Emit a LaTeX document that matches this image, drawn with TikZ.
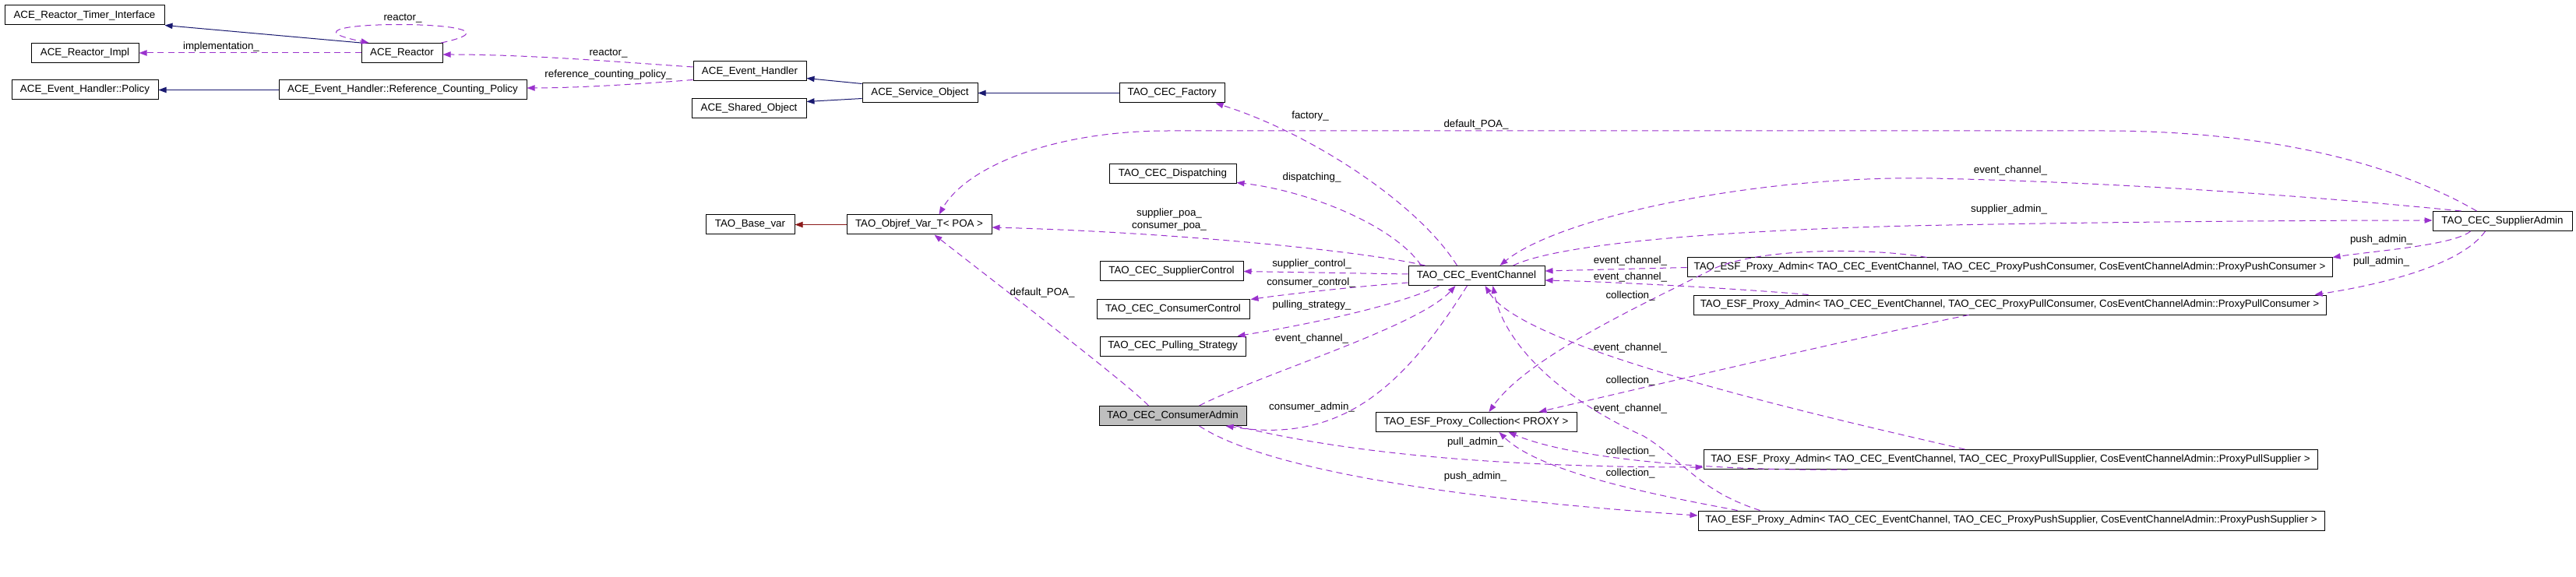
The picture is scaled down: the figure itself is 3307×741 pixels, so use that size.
\documentclass[tikz,border=0pt]{standalone}
\usepackage{fontspec}
\setmainfont{Liberation Sans}
\usetikzlibrary{arrows.meta,calc}
\definecolor{inhblue}{HTML}{191970}
\definecolor{usepurple}{HTML}{9A32CD}
\definecolor{privred}{HTML}{8B1A1A}
\definecolor{focusgray}{HTML}{BFBFBF}
\begin{document}
\begin{tikzpicture}[x=0.75pt,y=-0.75pt,
  box/.style={draw=black, fill=white, line width=0.75pt, inner sep=0pt, minimum height=18.75pt, font=\fontsize{10}{12}\selectfont, anchor=center},
  lbl/.style={font=\fontsize{10}{12}\selectfont, inner sep=0pt, align=center},
  inh/.style={draw=inhblue, line width=0.75pt, -{Triangle[length=7.5pt,width=5.5pt]}},
  inhp/.style={draw=privred, line width=0.75pt, -{Triangle[length=7.5pt,width=5.5pt]}},
  use/.style={draw=usepurple, line width=0.75pt, dash pattern=on 6pt off 4pt, -{Triangle[length=7.5pt,width=5.5pt]}}
]
\useasboundingbox (0,0) rectangle (3307,741);
\fill[white] (0,0) rectangle (3307,741);

% nodes
\node[box, minimum width=153.75pt] (timer) at (108.5,19.5) {ACE\_Reactor\_Timer\_Interface};
\node[box, minimum width=103.5pt] (rimpl) at (109,68) {ACE\_Reactor\_Impl};
\node[box, minimum width=78pt] (reactor) at (516,68) {ACE\_Reactor};
\node[box, minimum width=141pt] (policy) at (109,115.5) {ACE\_Event\_Handler::Policy};
\node[box, minimum width=238.5pt] (rcpolicy) at (517,115.5) {ACE\_Event\_Handler::Reference\_Counting\_Policy};
\node[box, minimum width=108.75pt] (evh) at (962.5,91.5) {ACE\_Event\_Handler};
\node[box, minimum width=110.25pt] (shared) at (961.5,139.5) {ACE\_Shared\_Object};
\node[box, minimum width=111pt] (service) at (1181,119.5) {ACE\_Service\_Object};
\node[box, minimum width=101.25pt] (factory) at (1504.5,119.5) {TAO\_CEC\_Factory};
\node[box, minimum width=122.25pt] (dispatching) at (1505.5,223.5) {TAO\_CEC\_Dispatching};
\node[box, minimum width=85.5pt] (basevar) at (963,288.5) {TAO\_Base\_var};
\node[box, minimum width=139.5pt] (objref) at (1180,288.5) {TAO\_Objref\_Var\_T< POA >};
\node[box, minimum width=138pt] (supctl) at (1504,348.5) {TAO\_CEC\_SupplierControl};
\node[box, minimum width=131.25pt] (ec) at (1895.5,354) {TAO\_CEC\_EventChannel};
\node[box, minimum width=147pt] (conctl) at (1506,396.5) {TAO\_CEC\_ConsumerControl};
\node[box, minimum width=140.25pt] (pulling) at (1505.5,444.5) {TAO\_CEC\_Pulling\_Strategy};
\node[box, fill=focusgray, minimum width=141.75pt] (cadmin) at (1505.5,534) {TAO\_CEC\_ConsumerAdmin};
\node[box, minimum width=193.5pt] (coll) at (1895,542) {TAO\_ESF\_Proxy\_Collection< PROXY >};
\node[box, minimum width=134.25pt] (sadmin) at (3212.5,284) {TAO\_CEC\_SupplierAdmin};
\node[box, minimum width=621pt] (pushcons) at (2580,343.5) {TAO\_ESF\_Proxy\_Admin< TAO\_CEC\_EventChannel, TAO\_CEC\_ProxyPushConsumer, CosEventChannelAdmin::ProxyPushConsumer >};
\node[box, minimum width=609pt] (pullcons) at (2580,391.5) {TAO\_ESF\_Proxy\_Admin< TAO\_CEC\_EventChannel, TAO\_CEC\_ProxyPullConsumer, CosEventChannelAdmin::ProxyPullConsumer >};
\node[box, minimum width=591pt] (pullsup) at (2581,590) {TAO\_ESF\_Proxy\_Admin< TAO\_CEC\_EventChannel, TAO\_CEC\_ProxyPullSupplier, CosEventChannelAdmin::ProxyPullSupplier >};
\node[box, minimum width=603pt] (pushsup) at (2582,668.5) {TAO\_ESF\_Proxy\_Admin< TAO\_CEC\_EventChannel, TAO\_CEC\_ProxyPushSupplier, CosEventChannelAdmin::ProxyPushSupplier >};

% inheritance
\draw[inh] (reactor.north west) -- (timer.south east);
\draw[inh] (rcpolicy.west) -- (policy.east);
\draw[inh] ($(service.north west)+(0,1)$) -- ($(evh.south east)+(0,-4)$);
\draw[inh] ($(service.south west)+(0,-6)$) -- ($(shared.north east)+(0,4)$);
\draw[inh] (factory.west) -- (service.east);
\draw[inhp] (objref.west) -- (basevar.east);

% usage
\draw[use] (reactor.west) -- (rimpl.east);
\draw[use] ($(reactor.north east)+(-2,0)$) .. controls (710,24) and (320,24) .. ($(reactor.north west)+(10,0)$);
\draw[use] ($(evh.west)+(0,-5.5)$) .. controls (800,80) and (680,70) .. ($(reactor.east)+(0,2)$);
\draw[use] ($(evh.south west)+(0,-2)$) .. controls (820,108) and (740,113) .. ($(rcpolicy.east)+(0,-2.5)$);
\draw[use] ($(ec.north west)+(63,0)$) .. controls (1820,260) and (1680,170) .. ($(factory.south east)+(-12,0)$);
\draw[use] ($(ec.north west)+(17,0)$) .. controls (1790,290) and (1680,245) .. ($(dispatching.south east)+(0,-2)$);
\draw[use] ($(sadmin.north west)+(57,0)$) .. controls (3100,225) and (2950,168) .. (2700,168) -- (1500,168) .. controls (1350,168) and (1240,215) .. ($(objref.north west)+(119,0)$);
\draw[use] ($(sadmin.north west)+(37,0)$) .. controls (3000,255) and (2750,235) .. (2480,229) .. controls (2250,225) and (2000,280) .. ($(ec.north west)+(118,0)$);
\draw[use] ($(ec.north west)+(135,0)$) .. controls (1990,318) and (2150,298) .. (2450,290) .. controls (2700,285) and (2950,283) .. ($(sadmin.west)+(0,-1)$);
\draw[use] ($(ec.north west)+(22,0)$) .. controls (1750,322) and (1500,298) .. ($(objref.east)+(0,3.5)$);
\draw[use] ($(sadmin.south west)+(49,0)$) .. controls (3150,315) and (3050,322) .. (pushcons.north east);
\draw[use] ($(sadmin.south west)+(68,0)$) .. controls (3160,340) and (3060,365) .. ($(pullcons.north east)+(-15,0)$);
\draw[use] (pushcons.west) -- ($(ec.east)+(0,-6)$);
\draw[use] ($(pullcons.north west)+(148,0)$) .. controls (2250,372) and (2080,362) .. ($(ec.east)+(0,6)$);
\draw[use] ($(ec.west)+(0,-2)$) -- (supctl.east);
\draw[use] ($(ec.south west)+(0,-4)$) .. controls (1740,368) and (1650,378) .. ($(conctl.north east)+(1,1)$);
\draw[use] ($(ec.south west)+(40,0)$) .. controls (1790,395) and (1660,420) .. ($(pulling.north east)+(-11,0)$);
\draw[use] ($(cadmin.north west)+(64,0)$) .. controls (1450,495) and (1300,380) .. ($(objref.south west)+(113,0)$);
\draw[use] ($(cadmin.north west)+(129,0)$) .. controls (1620,480) and (1820,420) .. ($(ec.south west)+(61,0)$);
\draw[use] ($(ec.south west)+(76,0)$) .. controls (1800,500) and (1720,570) .. ($(cadmin.south east)+(-27,0)$);
\draw[use] ($(pushcons.north west)+(308,0)$) .. controls (2400,318) and (2260,318) .. (2200,345) .. controls (2100,395) and (1960,460) .. ($(coll.north west)+(146,0)$);
\draw[use] ($(pullcons.south west)+(354,0)$) .. controls (2400,430) and (2100,500) .. ($(coll.north west)+(210,0)$);
\draw[use] ($(pullsup.north west)+(336,0)$) .. controls (2250,515) and (1950,440) .. ($(ec.south west)+(99,0)$);
\draw[use] ($(pushsup.north west)+(80,0)$) .. controls (2180,630) and (2160,590) .. (2110,560) .. controls (2000,510) and (1930,440) .. ($(ec.south west)+(109,0)$);
\draw[use] ($(pullsup.south west)+(185,0)$) .. controls (2200,605) and (2020,590) .. ($(coll.south west)+(171,0)$);
\draw[use] ($(pushsup.north west)+(51,0)$) .. controls (2150,640) and (1980,610) .. ($(coll.south west)+(159,0)$);
\draw[use] ($(cadmin.south east)+(-14,0)$) .. controls (1680,570) and (1850,600) .. ($(pullsup.south west)+(0,-3)$);
\draw[use] ($(cadmin.south west)+(129,0)$) .. controls (1620,600) and (1850,640) .. ($(pushsup.west)+(0,-6.5)$);

% labels
\node[lbl] (l1) at (517,24) {reactor\_};
\node[lbl] (l2) at (284,60) {implementation\_};
\node[lbl] (l3) at (781,69) {reactor\_};
\node[lbl] (l4) at (781,96) {reference\_counting\_policy\_};
\node[lbl] (l5) at (1682,149) {factory\_};
\node[lbl] (l6) at (1895,160) {default\_POA\_};
\node[lbl] (l7) at (1684,228) {dispatching\_};
\node[lbl] (l8) at (2581,219) {event\_channel\_};
\node[lbl] (l9) at (2579,269) {supplier\_admin\_};
\node[lbl] (l10) at (1501,282) {supplier\_poa\_\\consumer\_poa\_};
\node[lbl] (l11) at (3057,308) {push\_admin\_};
\node[lbl] (l12) at (3057,336) {pull\_admin\_};
\node[lbl] (l13) at (2093,335) {event\_channel\_};
\node[lbl] (l14) at (2093,356) {event\_channel\_};
\node[lbl] (l15) at (1684,339) {supplier\_control\_};
\node[lbl] (l16) at (1683,363) {consumer\_control\_};
\node[lbl] (l17) at (1338,376) {default\_POA\_};
\node[lbl] (l18) at (2093,380) {collection\_};
\node[lbl] (l19) at (1684,392) {pulling\_strategy\_};
\node[lbl] (l20) at (1684,435) {event\_channel\_};
\node[lbl] (l21) at (2093,447) {event\_channel\_};
\node[lbl] (l22) at (2093,489) {collection\_};
\node[lbl] (l23) at (1684,523) {consumer\_admin\_};
\node[lbl] (l24) at (2093,525) {event\_channel\_};
\node[lbl] (l25) at (1894,568) {pull\_admin\_};
\node[lbl] (l26) at (2093,580) {collection\_};
\node[lbl] (l27) at (2093,608) {collection\_};
\node[lbl] (l28) at (1894,612) {push\_admin\_};
\end{tikzpicture}
\end{document}
